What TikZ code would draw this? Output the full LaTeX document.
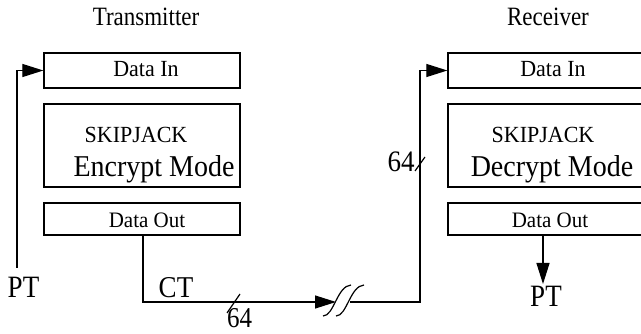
\documentclass[tikz,border=0pt]{standalone}
\usepackage{fontspec}
\setmainfont{Liberation Serif}
\usetikzlibrary{arrows.meta}
\newcommand{\tall}[2]{\scalebox{1}[#1]{#2}}
\begin{document}
\begin{tikzpicture}[x=1pt,y=-1pt,
  box/.style={draw,line width=1.3pt,rectangle,inner sep=0pt,minimum width=196pt},
  wire/.style={line width=1.2pt},
  arr/.style={wire,-{Triangle[length=21pt,width=13pt]}},
  lbl/.style={inner sep=0pt,anchor=base},
  f21/.style={font=\fontsize{21}{21}\selectfont},
  f22/.style={font=\fontsize{22}{22}\selectfont},
  f23/.style={font=\fontsize{23}{23}\selectfont},
  f25/.style={font=\fontsize{25}{25}\selectfont},
  f27/.style={font=\fontsize{27}{27}\selectfont},
  f28/.style={font=\fontsize{28}{28}\selectfont}]
\useasboundingbox (0,0) rectangle (641,334);
\clip (0,0) rectangle (641,334);
\fill[white] (0,0) rectangle (641,334);
% boxes
\node[box,minimum height=35pt] (dinL) at (142,70.5) {};
\node[box,minimum height=83pt] (skL) at (142,145.5) {};
\node[box,minimum height=32pt] (doutL) at (142,219) {};
\node[box,minimum height=35pt,minimum width=230pt] (dinR) at (563,70.5) {};
\node[box,minimum height=83pt,minimum width=230pt] (skR) at (563,145.5) {};
\node[box,minimum height=32pt,minimum width=230pt] (doutR) at (563,219) {};
% labels
\node[lbl,f23] (tx) at (146,26) {\tall{1.15}{Transmitter}};
\node[lbl,f23] (rx) at (548,26) {\tall{1.15}{Receiver}};
\node[lbl,f22] (dinLt) at (146,77) {\tall{1.05}{Data In}};
\node[lbl,f22] (dinRt) at (553,77) {\tall{1.05}{Data In}};
\node[lbl,f22] (skLt) at (136,143) {\tall{1.05}{SKIPJACK}};
\node[lbl,f22] (skRt) at (543,143) {\tall{1.05}{SKIPJACK}};
\node[lbl,f28] (encT) at (154,177) {\tall{1.08}{Encrypt Mode}};
\node[lbl,f28] (decT) at (552,177) {\tall{1.08}{Decrypt Mode}};
\node[lbl,f21] (doutLt) at (147,228) {\tall{1.05}{Data Out}};
\node[lbl,f21] (doutRt) at (550,228) {\tall{1.05}{Data Out}};
\node[lbl,f27] (ptL) at (23.5,298) {\tall{1.15}{PT}};
\node[lbl,f27] (ct) at (176,298) {\tall{1.12}{CT}};
\node[lbl,f25] (n64a) at (239.5,327) {\tall{1.15}{64}};
\node[lbl,f27] (n64b) at (401,172) {\tall{1.1}{64}};
\node[lbl,f27] (ptR) at (546,307) {\tall{1.15}{PT}};
% connectors
\coordinate (ptstart) at (17,268);
\draw[arr] (ptstart) |- (dinL.west);
\coordinate (ctTop) at (143,235);
\coordinate (brkL) at (336,302);
\coordinate (brkR) at (350,302);
\coordinate (turn) at (420,302);
\draw[arr] (ctTop) |- (brkL);
\draw[arr] (brkR) -- (turn) |- (dinR.west);
\coordinate (outR) at (543,235);
\coordinate (outRtip) at (543,284);
\draw[arr] (outR) -- (outRtip);
% bus width slashes
\draw[wire] (227,313) -- (240,294);
\draw[wire] (415,171) -- (425,157);
% line break squiggle
\draw[wire] (323,316) .. controls (334,316) and (337,286) .. (351,285);
\draw[wire] (336,316) .. controls (347,316) and (350,286) .. (364,285);
\end{tikzpicture}
\end{document}
